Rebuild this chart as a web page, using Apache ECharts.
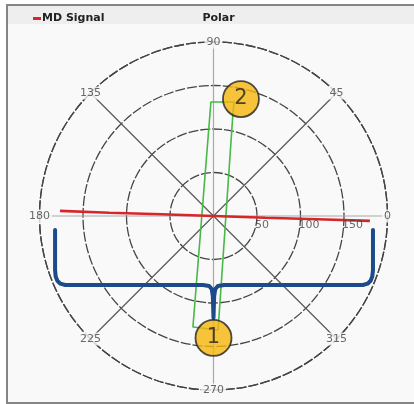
<!DOCTYPE html>
<html>
<head>
<meta charset="utf-8">
<script src="https://cdn.jsdelivr.net/npm/echarts@6/dist/echarts.min.js"></script>
<style>
html,body{margin:0;padding:0;background:#ffffff;}
#chart{width:414px;height:404px;}
</style>
</head>
<body>
<div id="chart"></div>
<script>
// ---- data ----
const angleTicks = [0, 45, 90, 135, 180, 225, 270, 315];
const radiusTicks = [50, 100, 150];
// MD Signal (red) : [radius, angle]
const mdRadius = [176.5, 120, 60, 0, 60, 120, 179.9];
const mdAngle  = [178.1, 178.2, 178.0, 0, 358.1, 358.2, 358.2];
// green loop : [radius, angle]
const loopRadius = [131.1, 129.7, 131.0, 133.1, 120.4, 131.1];
const loopAngle  = [272.3, 259.5, 91.3, 79.8, 79.3, 272.3];
// bracket annotation (x, y in radius units)
const bracketX = [-182.1, -182.1, -181.4, -179.5, -176.0, -170.5, -12.1, -5.0, -2.0, -0.8, 0, 0.8, 2.0, 5.0, 12.1, 171.6, 177.1, 180.6, 182.5, 183.3, 183.3];
const bracketY = [-16.1, -62.0, -69.5, -74.5, -77.8, -79.3, -79.3, -80.5, -84.0, -92.0, -117.2, -92.0, -84.0, -80.5, -79.3, -79.3, -77.8, -74.5, -69.5, -62.0, -16.1];
// callout markers
const markerRadius = [140.2, 138.1];
const markerAngle = [270, 76.8];
const markerText = ['1', '2'];

const CX = 213.5, CY = 216, R = 174;
const FONT = 'DejaVu Sans';

const chart = echarts.init(document.getElementById('chart'), null, {renderer: 'canvas'});
const option = {
  animation: false,
  backgroundColor: '#ffffff',
  graphic: [
    {type: 'rect', z: -10, shape: {x: 7, y: 5, width: 420, height: 398}, style: {fill: '#f9f9f9', stroke: '#858585', lineWidth: 2}},
    {type: 'rect', z: -9, shape: {x: 8, y: 6, width: 420, height: 18}, style: {fill: '#eeeeee'}}
  ],
  title: {
    text: 'Polar', left: CX, top: 8, textAlign: 'center',
    textStyle: {fontFamily: FONT, fontSize: 11, fontWeight: 'bold', color: '#222'}
  },
  legend: {
    data: ['MD Signal'], left: 28, top: 8, itemWidth: 8, itemHeight: 3, itemGap: 4,
    icon: 'rect',
    textStyle: {fontFamily: FONT, fontSize: 11, fontWeight: 'bold', color: '#222', padding: [0, 0, 0, -4]}
  },
  polar: {center: [CX, CY], radius: R},
  angleAxis: {
    type: 'value', min: 0, max: 360, interval: 45, startAngle: 0, clockwise: false,
    axisLine: {show: true, lineStyle: {color: '#444', width: 1.3, type: [10, 2]}},
    axisTick: {show: false},
    axisLabel: {show: false},
    splitLine: {show: true, lineStyle: {color: ['#a8a8a8', '#5a5a5a'], width: 1.2}}
  },
  radiusAxis: {
    type: 'value', min: 0, max: 200, interval: 50,
    axisLine: {show: false},
    axisTick: {show: false},
    axisLabel: {show: false},
    splitLine: {show: true, lineStyle: {color: '#444', width: 1.3, type: [10, 2]}}
  },
  grid: {left: CX - R, top: CY - R, width: 2 * R, height: 2 * R, show: false},
  xAxis: {type: 'value', min: -200, max: 200, show: false},
  yAxis: {type: 'value', min: -200, max: 200, show: false},
  series: [
    {
      name: 'loop', type: 'line', coordinateSystem: 'polar', z: 3,
      data: loopRadius.map((r, i) => [r, loopAngle[i]]),
      symbol: 'none', lineStyle: {color: '#46b946', width: 1.6}
    },
    {
      name: 'MD Signal', type: 'line', coordinateSystem: 'polar', z: 4,
      data: mdRadius.map((r, i) => [r, mdAngle[i]]),
      symbol: 'none', itemStyle: {color: '#d6262b'}, lineStyle: {color: '#d6262b', width: 2.6}
    },
    {
      name: 'bracket', type: 'line', xAxisIndex: 0, yAxisIndex: 0, z: 5,
      data: bracketX.map((x, i) => [x, bracketY[i]]),
      symbol: 'none', lineStyle: {color: '#1d4a8b', width: 4, cap: 'round', join: 'round'}
    },
    {
      name: 'radiusLabels', type: 'scatter', coordinateSystem: 'polar', z: 6,
      data: radiusTicks.map(r => [r, 0]), symbolSize: 0, silent: true,
      label: {
        show: true, position: [-2, 4], align: 'left', verticalAlign: 'top',
        formatter: p => String(p.data[0]),
        color: '#444', fontFamily: FONT, fontSize: 11
      }
    },
    {
      name: 'angleLabels', type: 'scatter', coordinateSystem: 'polar', z: 6,
      data: angleTicks.map(a => [200, a]), symbolSize: 0, silent: true,
      label: {
        show: true, position: 'inside', formatter: p => String(p.data[1]),
        color: '#444', fontFamily: FONT, fontSize: 11,
        backgroundColor: '#f9f9f9', padding: [1, 2]
      }
    },
    {
      name: 'markers', type: 'scatter', coordinateSystem: 'polar', z: 8,
      data: markerRadius.map((r, i) => [r, markerAngle[i], markerText[i]]),
      symbol: 'circle', symbolSize: 36,
      itemStyle: {color: '#f5b50a', borderColor: '#222', borderWidth: 1.8},
      label: {show: true, position: 'inside', formatter: p => p.data[2], color: '#222', fontFamily: FONT, fontSize: 21}
    }
  ]
};
chart.setOption(option);
</script>
</body>
</html>
